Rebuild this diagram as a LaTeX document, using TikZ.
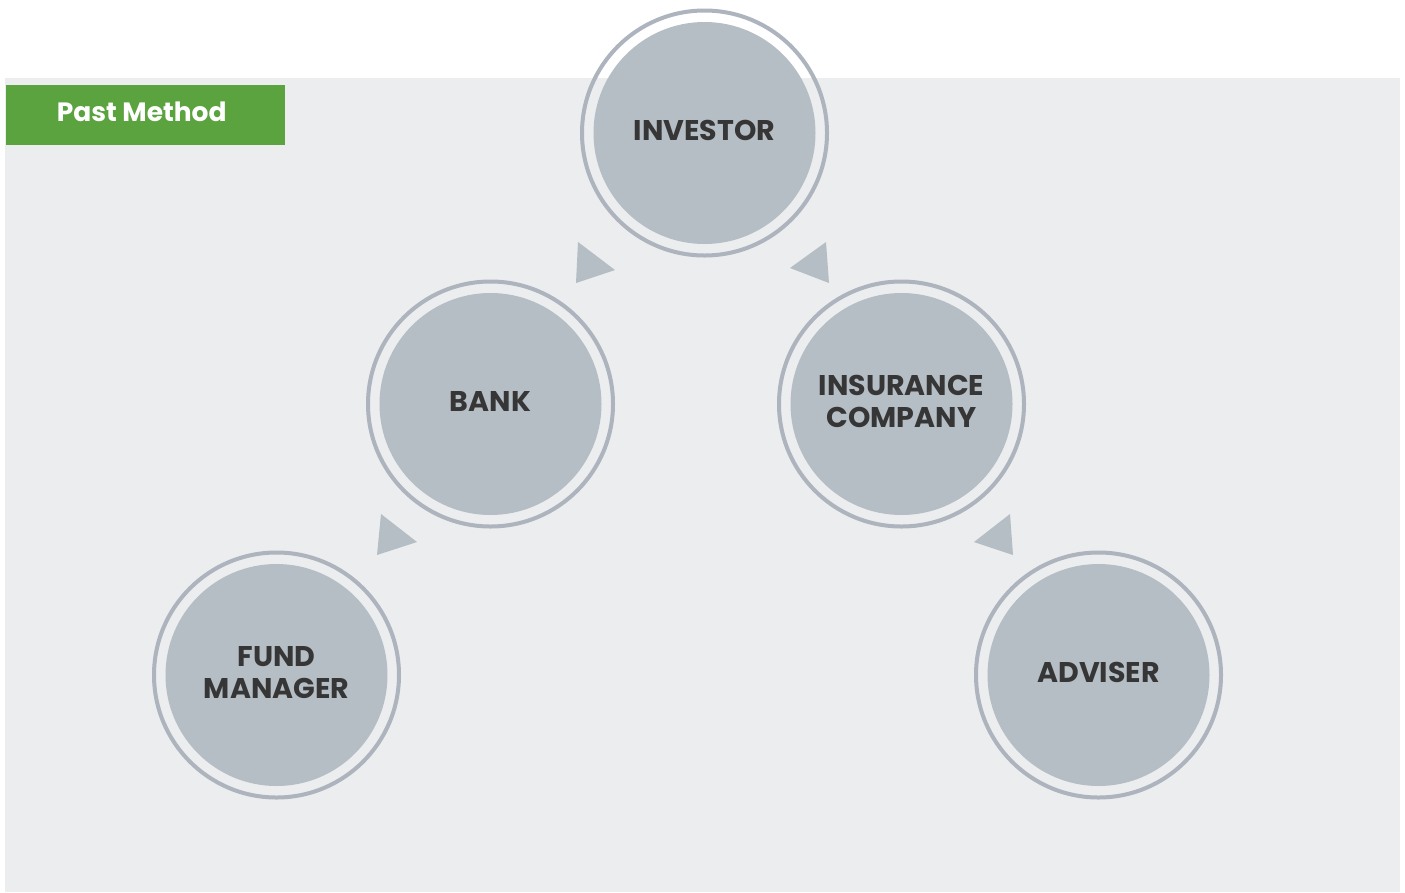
\documentclass[tikz,border=0pt]{standalone}
\usepackage{fontspec}
\setmainfont{Poppins}
\usetikzlibrary{positioning,calc}
\definecolor{panelgrey}{HTML}{ECEDEF}
\definecolor{discgrey}{HTML}{B5BDC5}
\definecolor{ringgrey}{HTML}{ADB4BD}
\definecolor{labelgreen}{HTML}{5BA33E}
\definecolor{textdark}{HTML}{363636}
\begin{document}
\begin{tikzpicture}[x=1pt,y=-1pt,
  partytext/.style={align=center, text=textdark, yshift=2.5pt,
    font=\fontsize{28.5}{32}\selectfont\bfseries},
  party/.style={circle, fill=discgrey, minimum size=222pt, inner sep=0pt,
    label={[partytext]center:#1}},
  ring/.style={draw=ringgrey, line width=4pt},
  pointer/.style={fill=discgrey}]
\useasboundingbox (0,0) rectangle (1405,892);
\fill[panelgrey] (5,78) rectangle (1400,892);
\node[fill=labelgreen, minimum width=279pt, minimum height=60pt, inner sep=0pt,
  anchor=north west] (title) at (6,85) {};
\node[text=white, font=\fontsize{26.5}{30}\selectfont\bfseries]
  at ($(title.center)+(-4,-3)$) {Past Method};
% the parties
\node[party={INVESTOR}] (investor) at (704.5,133) {};
\node[party={BANK}] (bank) at (490.5,404) {};
\node[party={INSURANCE\\COMPANY}] (insurer) at (901.5,404) {};
\node[party={FUND\\MANAGER}] (fund) at (276.5,675) {};
\node[party={ADVISER}] (adviser) at (1098.5,675) {};
\foreach \n in {investor,bank,insurer,fund,adviser}
  \draw[ring] (\n.center) circle (122.5);
% pointers between them
\fill[pointer] (578,242) -- (615,270) -- (576,283) -- cycle;
\fill[pointer] (826,242) -- (790,268) -- (829,283) -- cycle;
\fill[pointer] (381,514) -- (417,542) -- (377,555) -- cycle;
\fill[pointer] (1010,514) -- (974,542) -- (1013,555) -- cycle;
\end{tikzpicture}
\end{document}
